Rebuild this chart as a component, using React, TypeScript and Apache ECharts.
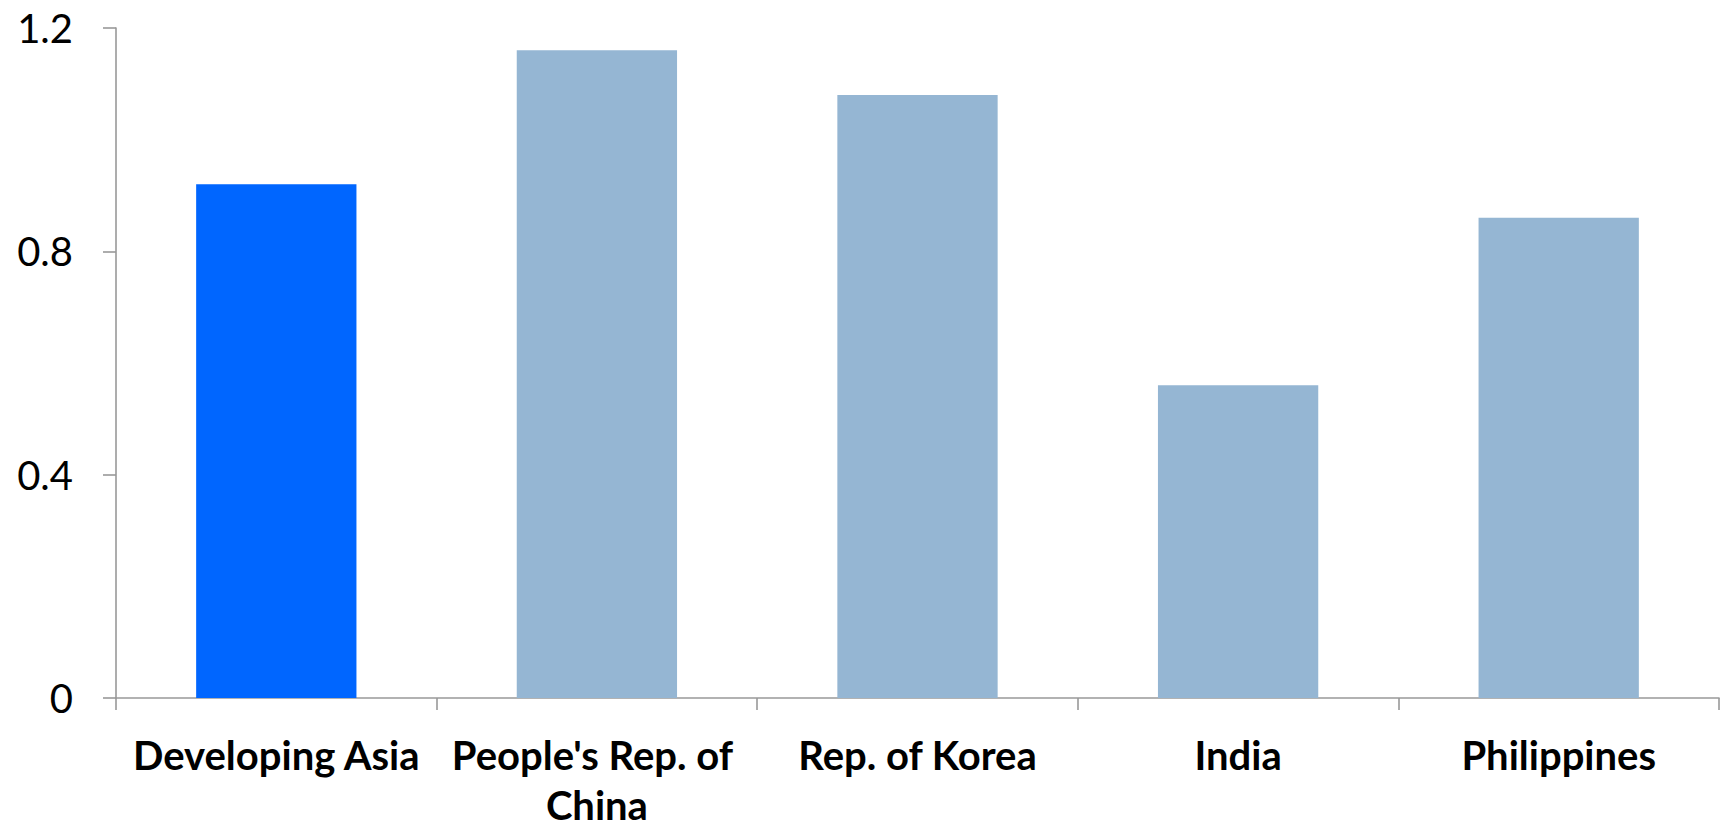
import React, { useEffect, useRef } from "react";
import * as echarts from "echarts";

const categories = ["Developing Asia", "People's Rep. of China", "Rep. of Korea", "India", "Philippines"];
const values = [0.92, 1.16, 1.08, 0.56, 0.86];
const barColors = ["#0066FF", "#95B6D3", "#95B6D3", "#95B6D3", "#95B6D3"];
const yTicks = { min: 0, max: 1.2, interval: 0.4 };

export default function App() {
  const ref = useRef<HTMLDivElement>(null);
  useEffect(() => {
    if (!ref.current) return;
    const chart = echarts.init(ref.current, null, { renderer: "svg" });
    const axisColor = "#999999";
    chart.setOption({
      animation: false,
      backgroundColor: "#ffffff",
      grid: { left: 116, right: 6, top: 28, bottom: 124, containLabel: false, outerBoundsMode: "none" },
      xAxis: {
        type: "category",
        data: categories,
        axisLine: { show: true, lineStyle: { color: axisColor, width: 1.6 } },
        axisTick: { show: true, alignWithLabel: false, length: 12, lineStyle: { color: axisColor, width: 1.6 } },
        axisLabel: {
          interval: 0,
          margin: 32,
          color: "#000000",
          fontFamily: "Lato",
          fontWeight: "bold",
          fontSize: 40,
          lineHeight: 50,
          width: 310,
          overflow: "break",
        },
      },
      yAxis: {
        type: "value",
        min: yTicks.min,
        max: yTicks.max,
        interval: yTicks.interval,
        splitLine: { show: false },
        axisLine: { show: true, lineStyle: { color: axisColor, width: 1.6 } },
        axisTick: { show: true, length: 13, lineStyle: { color: axisColor, width: 1.6 } },
        axisLabel: {
          margin: 43,
          color: "#000000",
          fontFamily: "Lato",
          fontSize: 40,
          formatter: (v: number) => (v === 0 ? "0" : String(Math.round(v * 10) / 10)),
        },
      },
      series: [
        {
          type: "bar",
          data: values.map((v, i) => ({ value: v, itemStyle: { color: barColors[i] } })),
          barWidth: "50%",
        },
      ],
    });
    return () => chart.dispose();
  }, []);
  return <div ref={ref} style={{ width: 1725, height: 822, position: "absolute", left: 0, top: 0 }} />;
}
